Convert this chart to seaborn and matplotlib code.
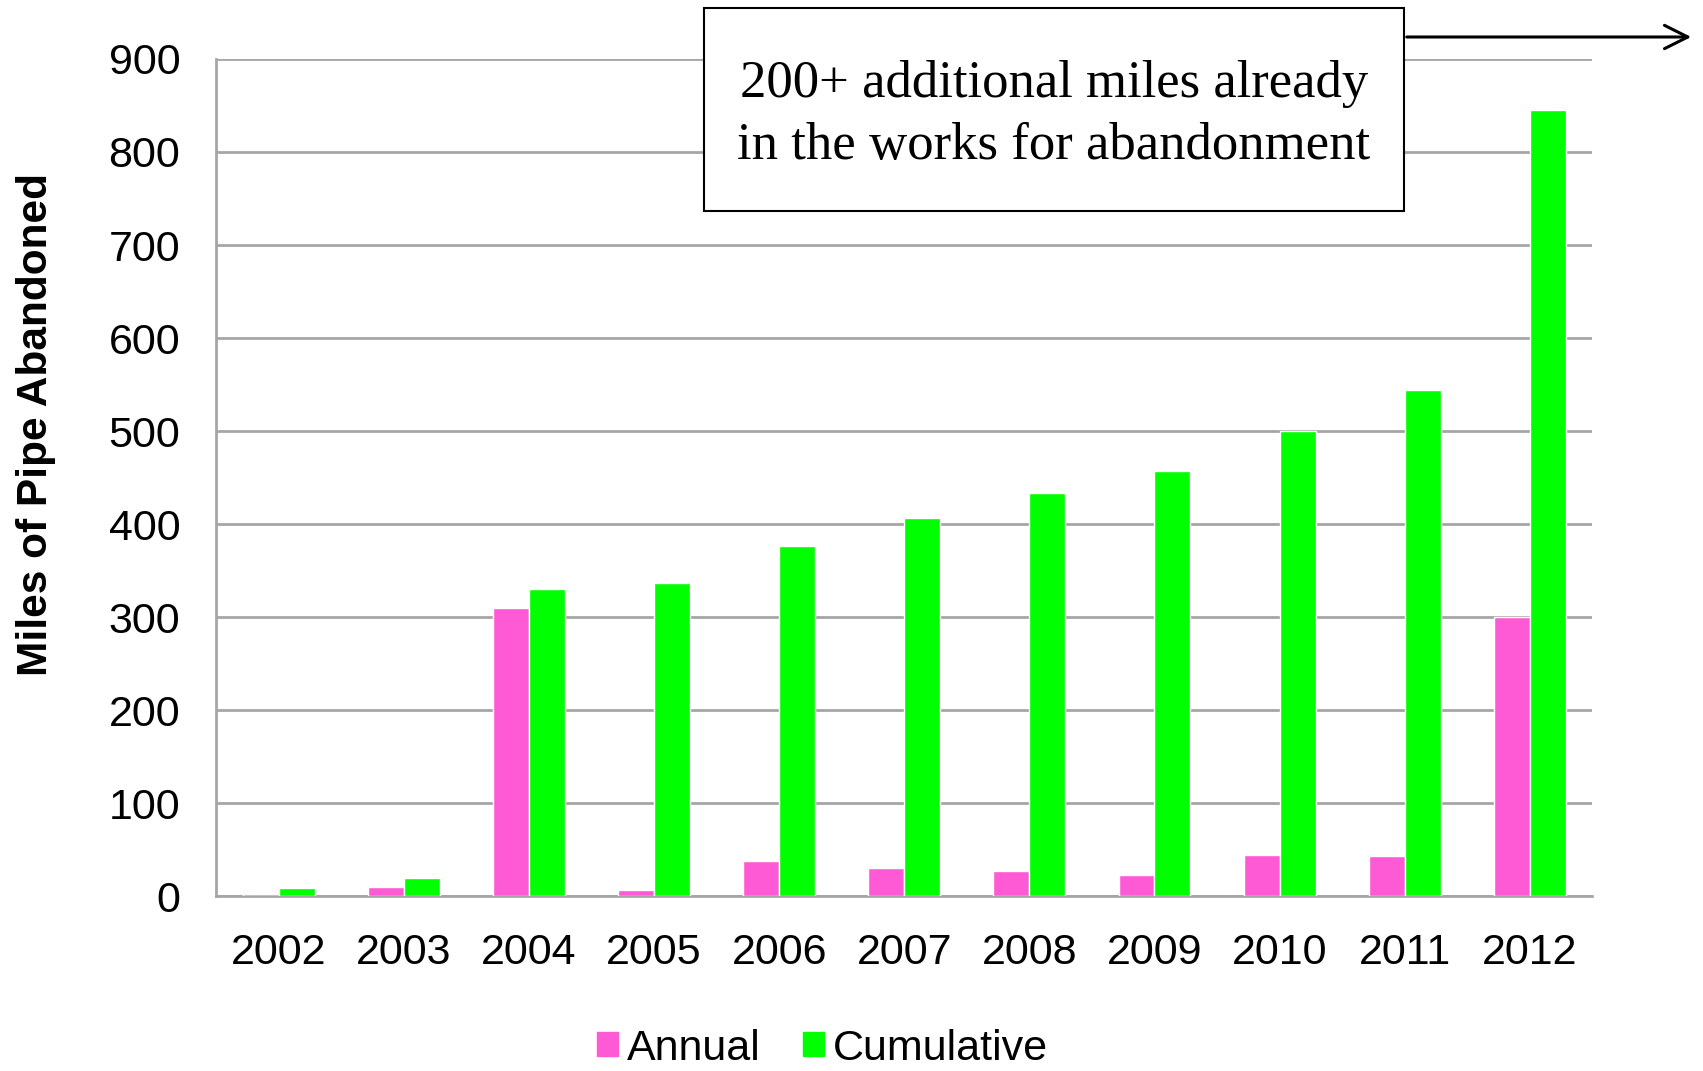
import numpy as np
import pandas as pd
import matplotlib
matplotlib.use("Agg")
import matplotlib.pyplot as plt
import seaborn as sns

years = ["2002", "2003", "2004", "2005", "2006", "2007", "2008", "2009", "2010", "2011", "2012"]
annual = [3, 10, 310, 7, 38, 31, 27, 23, 44, 43, 300]
cumulative = [9, 20, 330, 337, 377, 407, 434, 457, 500, 544, 845]
series = ["Annual", "Cumulative"]
colors = ["#FF5AD5", "#00FF00"]
yticks = [0, 100, 200, 300, 400, 500, 600, 700, 800, 900]

df = pd.DataFrame({
    "year": years * 2,
    "miles": annual + cumulative,
    "series": [series[0]] * len(years) + [series[1]] * len(years),
})

sns.set_style("white")
plt.rcParams["font.family"] = ["Liberation Sans", "DejaVu Sans"]
plt.rcParams["text.color"] = "black"
plt.rcParams["axes.labelcolor"] = "black"
plt.rcParams["xtick.labelcolor"] = "black"
plt.rcParams["ytick.labelcolor"] = "black"

W, H = 1703, 1071
fig = plt.figure(figsize=(W / 100, H / 100), dpi=100)
ax = fig.add_axes([0.127, 0.163, 0.808, 0.782])

sns.barplot(data=df, x="year", y="miles", hue="series", palette=colors,
            width=0.575, saturation=1, ax=ax, legend=False, zorder=3)

grid_c = "#A6A6A6"
ax.set_ylim(0, 900)
ax.set_xlim(-0.5, len(years) - 0.5)
ax.set_yticks(yticks)
ax.set_yticklabels([str(v) for v in yticks], fontsize=31)
ax.set_xticks(range(len(years)))
ax.set_xticklabels(years, fontsize=31)
ax.set_xticks(np.arange(-0.5, len(years), 1.0), minor=True)
ax.tick_params(axis="x", which="major", length=0, pad=26)
ax.tick_params(axis="x", which="minor", length=11, width=2, color=grid_c, direction="out")
ax.tick_params(axis="y", length=12, width=2, color=grid_c, direction="out", pad=14)
ax.yaxis.grid(True, color=grid_c, linewidth=2)
ax.set_axisbelow(True)
for s in ["top", "right"]:
    ax.spines[s].set_visible(False)
for s in ["left", "bottom"]:
    ax.spines[s].set_color(grid_c)
    ax.spines[s].set_linewidth(2)
ax.set_xlabel("")
ax.set_ylabel("Miles of Pipe Abandoned", fontsize=30.5, fontweight="bold", labelpad=38, y=0.563)

# legend
handles = [plt.Rectangle((0, 0), 1, 1, color=c) for c in colors]
fig.legend(handles, series, loc="center", bbox_to_anchor=(0.483, 0.021), ncol=2,
           frameon=False, fontsize=31, handlelength=0.48, handleheight=0.48,
           handletextpad=0.2, columnspacing=1.0, borderpad=0)

# annotation box + arrow
fig.patches.append(plt.Rectangle((704 / W, 1 - 211 / H), 700 / W, 203 / H,
                                 transform=fig.transFigure, facecolor="white",
                                 edgecolor="black", linewidth=1.5, zorder=5))
fig.text(1054 / W, 0.893, "200+ additional miles already\nin the works for abandonment",
         ha="center", va="center", fontsize=38, family="Liberation Serif",
         linespacing=1.38, zorder=6)
ax.annotate("", xy=(1694 / W, 1 - 37 / H), xycoords="figure fraction",
            xytext=(1404 / W, 1 - 37 / H), textcoords="figure fraction",
            arrowprops=dict(arrowstyle="->", color="black", lw=2.2, mutation_scale=42))

fig.savefig("out.png", dpi=100)
